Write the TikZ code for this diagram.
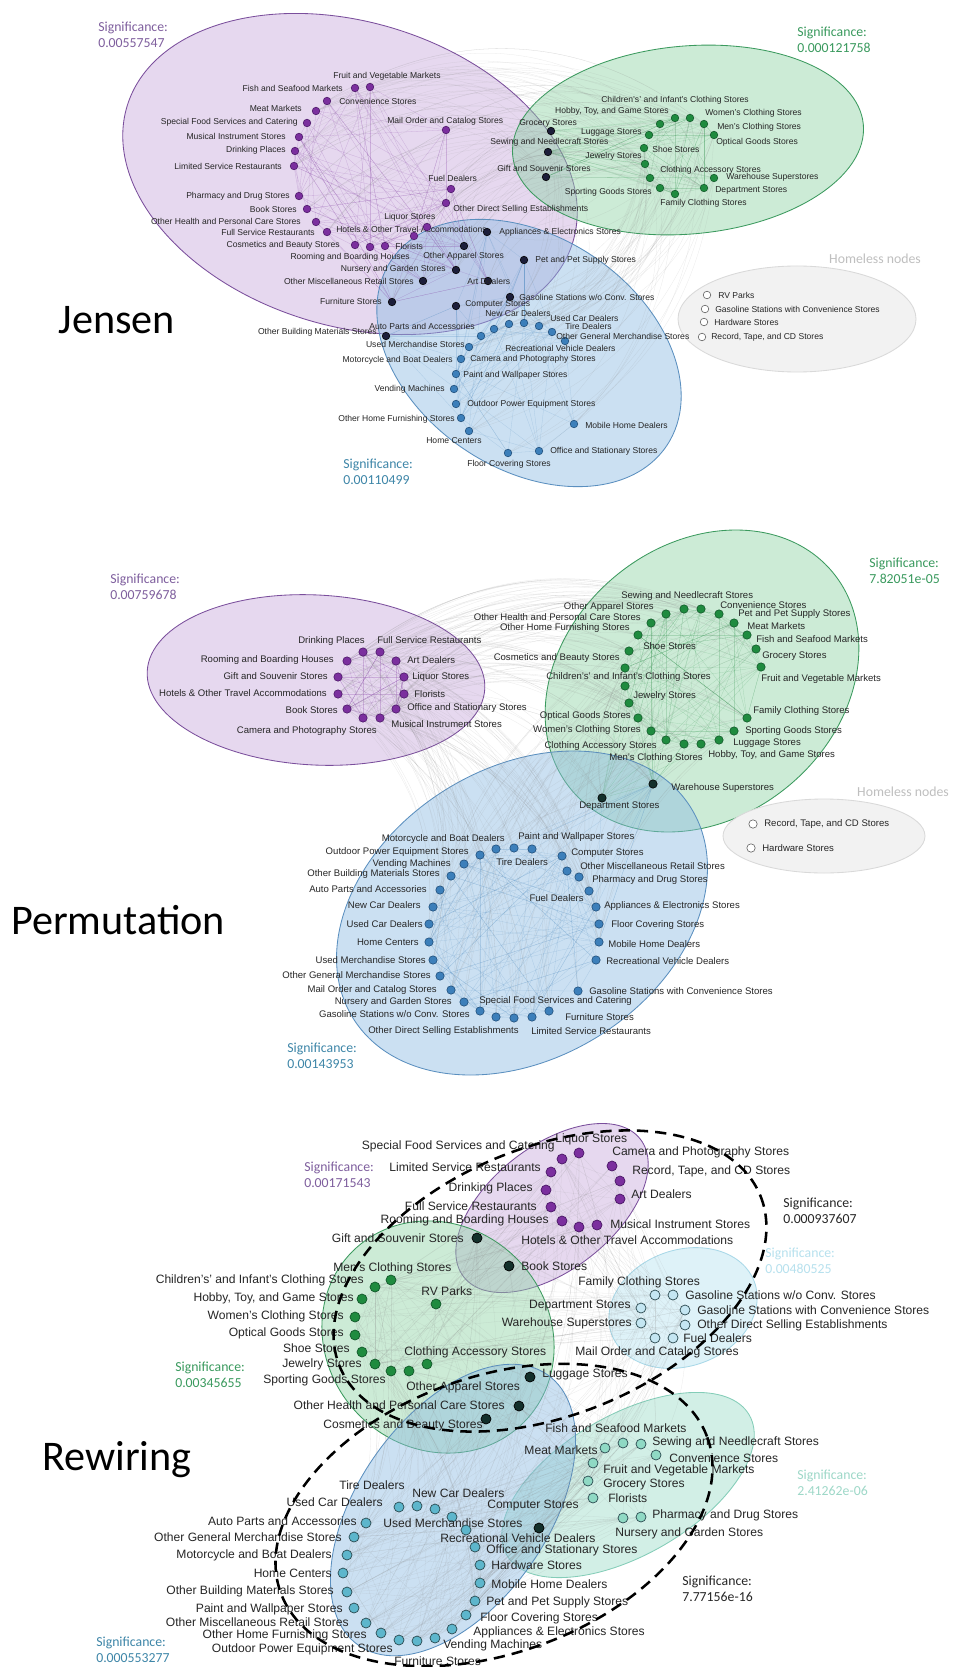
\documentclass[tikz,border=0pt]{standalone}
\usepackage{fontspec}
\setmainfont{Liberation Sans}
\newfontfamily\sigfont{Carlito}

\definecolor{txt}{HTML}{262626}
\definecolor{ePurF}{HTML}{C9A9DD}\definecolor{ePurD}{HTML}{7A4E9C}
\definecolor{eGrnF}{HTML}{8FD3A6}\definecolor{eGrnD}{HTML}{3B9A5E}
\definecolor{eBluF}{HTML}{8DBCE3}\definecolor{eBluD}{HTML}{5A8FBF}
\definecolor{eCyaF}{HTML}{BFE6F2}\definecolor{eCyaD}{HTML}{A8D8E8}
\definecolor{eTeaF}{HTML}{A7E0CF}\definecolor{eTeaD}{HTML}{84CDB8}
\definecolor{eHomF}{HTML}{F2F2F2}\definecolor{eHomD}{HTML}{D9D9D9}
\definecolor{nPur}{HTML}{7B2F9E}\definecolor{nPurD}{HTML}{4A1766}
\definecolor{nGrn}{HTML}{1F8B3F}\definecolor{nGrnD}{HTML}{12582A}
\definecolor{nBlu}{HTML}{3C7FBA}\definecolor{nBluD}{HTML}{1E4C78}
\definecolor{nDrk}{HTML}{1C1E3A}\definecolor{nDrk2}{HTML}{13302B}
\definecolor{rCya}{HTML}{C4E6F2}\definecolor{rTea}{HTML}{8FD9C4}
\definecolor{rBlu}{HTML}{5DB6CC}\definecolor{rOut}{HTML}{2B4A50}
\definecolor{sPur}{HTML}{7F5F9E}\definecolor{sGrn}{HTML}{3A9A5E}
\definecolor{sBlu}{HTML}{3E86A8}\definecolor{sCya}{HTML}{B7E1EE}
\definecolor{sTea}{HTML}{9ED8C8}\definecolor{sHom}{HTML}{BFBFBF}

\pgfdeclarelayer{bg}
\pgfdeclarelayer{edges}
\pgfsetlayers{bg,edges,main}

\tikzset{
  lj/.style={font=\fontsize{6.1}{7.3}\selectfont, text=txt, inner sep=0pt},
  lp/.style={font=\fontsize{6.8}{8}\selectfont, text=txt, inner sep=0pt},
  lr/.style={font=\fontsize{8.6}{10}\selectfont, text=txt, inner sep=0pt},
  sig/.style={font=\sigfont\fontsize{9.8}{11.6}\selectfont, align=left, anchor=west, inner sep=0pt},
  ttl/.style={font=\sigfont\fontsize{30}{36}\selectfont, text=black, inner sep=0pt},
  dotj/.style={circle, draw, line width=0.4pt, inner sep=0pt, minimum size=1.9mm},
  dotp/.style={circle, draw, line width=0.4pt, inner sep=0pt, minimum size=2.1mm},
  dotr/.style={circle, draw, line width=0.5pt, inner sep=0pt, minimum size=2.5mm},
  pur/.style={fill=nPur, draw=nPurD},
  grn/.style={fill=nGrn, draw=nGrnD},
  blu/.style={fill=nBlu, draw=nBluD},
  drk/.style={fill=nDrk, draw=black},
  drk2/.style={fill=nDrk2, draw=black},
  hml/.style={fill=white, draw=black!65},
  rcya/.style={fill=rCya, draw=rOut},
  rtea/.style={fill=rTea, draw=rOut},
  rblu/.style={fill=rBlu, draw=rOut},
  epur/.style={fill=ePurF, fill opacity=.45, draw=ePurD, line width=.6pt},
  egrn/.style={fill=eGrnF, fill opacity=.45, draw=eGrnD, line width=.6pt},
  eblu/.style={fill=eBluF, fill opacity=.45, draw=eBluD, line width=.6pt},
  ecya/.style={fill=eCyaF, fill opacity=.5, draw=eCyaD, line width=.6pt},
  etea/.style={fill=eTeaF, fill opacity=.5, draw=eTeaD, line width=.6pt},
  ehom/.style={fill=eHomF, draw=eHomD, line width=.6pt},
  dsh/.style={black, line width=1.8pt, dash pattern=on 8pt off 5pt},
  edpur/.style={draw=nPur, line width=.2pt, draw opacity=.25},
  edgrn/.style={draw=nGrn, line width=.2pt, draw opacity=.22},
  edblu/.style={draw=nBlu, line width=.2pt, draw opacity=.22},
  edgry/.style={draw=black!45, line width=.2pt, draw opacity=.18},
}

\begin{document}
\begin{tikzpicture}[x=0.025cm, y=-0.025cm]
\useasboundingbox (0,0) rectangle (965,1667);

% ---------- groups ----------
\begin{pgfonlayer}{bg}
\fill[white] (0,0) rectangle (965,1667);
% Jensen
\filldraw[epur, rotate around={-17:(350,174)}] (350,174) ellipse [x radius=233, y radius=152];
\filldraw[egrn, rotate around={5:(688,140)}] (688,140) ellipse [x radius=176, y radius=94];
\filldraw[eblu, rotate around={-34:(529,353)}] (529,353) ellipse [x radius=166, y radius=116];
\filldraw[ehom] (797,319) ellipse [x radius=119, y radius=53];
% Permutation
\filldraw[epur, rotate around={-3:(316,680)}] (316,680) ellipse [x radius=169, y radius=85];
\filldraw[egrn, rotate around={40:(702,681)}] (702,681) ellipse [x radius=170, y radius=136];
\filldraw[eblu, rotate around={32:(522,913)}] (522,913) ellipse [x radius=199, y radius=145];
\filldraw[ehom] (824,836) ellipse [x radius=101, y radius=37];
% Rewiring
\filldraw[epur, rotate around={38:(552,1208)}] (552,1208) ellipse [x radius=112, y radius=62];
\filldraw[egrn, rotate around={-45:(438,1337)}] (438,1337) ellipse [x radius=121, y radius=111];
\filldraw[ecya, rotate around={20:(683,1308)}] (683,1308) ellipse [x radius=76, y radius=58];
\filldraw[etea, rotate around={30:(628,1485)}] (628,1485) ellipse [x radius=140, y radius=70];
\filldraw[eblu, rotate around={55:(453,1510)}] (453,1510) ellipse [x radius=165, y radius=95];
\end{pgfonlayer}

% ---------- titles and significance ----------
\node[ttl] (jTitle) at (117,320) {Jensen};
\node[ttl] (pTitle) at (118,920) {Permutation};
\node[ttl] (rTitle) at (117,1460) {Rewiring};
\node[sig, text=sPur] (jSigP) at (98,35) {Significance:\\0.00557547};
\node[sig, text=sGrn] (jSigG) at (797,40) {Significance:\\0.000121758};
\node[sig, text=sBlu] (jSigB) at (343,472) {Significance:\\0.00110499};
\node[sig, text=sHom, anchor=center] (jHomT) at (875,259) {Homeless nodes};
\node[sig, text=sPur] (pSigP) at (110,587) {Significance:\\0.00759678};
\node[sig, text=sGrn] (pSigG) at (869,571) {Significance:\\7.82051e-05};
\node[sig, text=sBlu] (pSigB) at (287,1056) {Significance:\\0.00143953};
\node[sig, text=sHom, anchor=center] (pHomT) at (903,792) {Homeless nodes};
\node[sig, text=sPur] (rSigP) at (304,1175) {Significance:\\0.00171543};
\node[sig, text=txt] (rSigK1) at (783,1211) {Significance:\\0.000937607};
\node[sig, text=sCya] (rSigC) at (765,1261) {Significance:\\0.00480525};
\node[sig, text=sGrn] (rSigG) at (175,1375) {Significance:\\0.00345655};
\node[sig, text=sTea] (rSigT) at (797,1483) {Significance:\\2.41262e-06};
\node[sig, text=txt] (rSigK2) at (682,1589) {Significance:\\7.77156e-16};
\node[sig, text=sBlu] (rSigB) at (96,1650) {Significance:\\0.000553277};

% ================= Jensen =================
\node[dotj,pur] (jFruit) at (370,87) {}; \node[lj,anchor=west] (jFruitT) at (333,76) {Fruit and Vegetable Markets};
\node[dotj,pur] (jFish) at (355,88) {}; \node[lj,anchor=east] (jFishT) at (343,88) {Fish and Seafood Markets};
\node[dotj,pur] (jConv) at (327,101) {}; \node[lj,anchor=west] (jConvT) at (339,101) {Convenience Stores};
\node[dotj,pur] (jMeat) at (316,111) {}; \node[lj,anchor=east] (jMeatT) at (302,108) {Meat Markets};
\node[dotj,pur] (jSpecial) at (307,123) {}; \node[lj,anchor=east] (jSpecialT) at (298,122) {Special Food Services and Catering};
\node[dotj,pur] (jMusical) at (299,137) {}; \node[lj,anchor=east] (jMusicalT) at (286,136) {Musical Instrument Stores};
\node[dotj,pur] (jDrink) at (295,151) {}; \node[lj,anchor=east] (jDrinkT) at (286,150) {Drinking Places};
\node[dotj,pur] (jLimited) at (294,166) {}; \node[lj,anchor=east] (jLimitedT) at (282,166) {Limited Service Restaurants};
\node[dotj,pur] (jPharm) at (299,196) {}; \node[lj,anchor=east] (jPharmT) at (290,196) {Pharmacy and Drug Stores};
\node[dotj,pur] (jBook) at (307,209) {}; \node[lj,anchor=east] (jBookT) at (297,209) {Book Stores};
\node[dotj,pur] (jHealth) at (316,222) {}; \node[lj,anchor=east] (jHealthT) at (301,221) {Other Health and Personal Care Stores};
\node[dotj,pur] (jFull) at (327,232) {}; \node[lj,anchor=east] (jFullT) at (315,232) {Full Service Restaurants};
\node[dotj,pur] (jCosm) at (355,245) {}; \node[lj,anchor=east] (jCosmT) at (340,245) {Cosmetics and Beauty Stores};
\node[dotj,pur] (jRoom) at (370,247) {}; \node[lj,anchor=east] (jRoomT) at (410,257) {Rooming and Boarding Houses};
\node[dotj,pur] (jFlor) at (385,246) {}; \node[lj,anchor=west] (jFlorT) at (395,246) {Florists};
\node[dotj,pur] (jHotel) at (414,236) {}; \node[lj,anchor=west] (jHotelT) at (336,229) {Hotels \& Other Travel Accommodations};
\node[dotj,pur] (jLiquor) at (427,227) {}; \node[lj,anchor=west] (jLiquorT) at (384,217) {Liquor Stores};
\node[dotj,pur] (jDirect) at (446,203) {}; \node[lj,anchor=west] (jDirectT) at (453,209) {Other Direct Selling Establishments};
\node[dotj,pur] (jFuel) at (451,189) {}; \node[lj,anchor=west] (jFuelT) at (428,178) {Fuel Dealers};
\node[dotj,pur] (jMail) at (446,130) {}; \node[lj,anchor=west] (jMailT) at (387,121) {Mail Order and Catalog Stores};
% overlap
\node[dotj,drk] (jGroc) at (551,131) {}; \node[lj,anchor=west] (jGrocT) at (519,123) {Grocery Stores};
\node[dotj,drk] (jSew) at (548,152) {}; \node[lj,anchor=west] (jSewT) at (490,142) {Sewing and Needlecraft Stores};
\node[dotj,drk] (jGift) at (546,177) {}; \node[lj,anchor=west] (jGiftT) at (497,168) {Gift and Souvenir Stores};
\node[dotj,drk] (jAppl) at (487,232) {}; \node[lj,anchor=west] (jApplT) at (499,232) {Appliances \& Electronics Stores};
\node[dotj,drk] (jApp) at (464,246) {}; \node[lj,anchor=west] (jAppT) at (423,256) {Other Apparel Stores};
\node[dotj,drk] (jPet) at (524,260) {}; \node[lj,anchor=west] (jPetT) at (535,260) {Pet and Pet Supply Stores};
\node[dotj,drk] (jNurs) at (456,270) {}; \node[lj,anchor=east] (jNursT) at (446,269) {Nursery and Garden Stores};
\node[dotj,drk] (jMisc) at (423,281) {}; \node[lj,anchor=east] (jMiscT) at (414,281) {Other Miscellaneous Retail Stores};
\node[dotj,drk] (jArt) at (488,281) {}; \node[lj,anchor=west] (jArtT) at (467,281) {Art Dealers};
\node[dotj,drk] (jGasW) at (510,297) {}; \node[lj,anchor=west] (jGasWT) at (519,297) {Gasoline Stations w/o Conv. Stores};
\node[dotj,drk] (jFurn) at (392,302) {}; \node[lj,anchor=east] (jFurnT) at (382,301) {Furniture Stores};
\node[dotj,drk] (jComp) at (456,306) {}; \node[lj,anchor=west] (jCompT) at (465,304) {Computer Stores};
\node[dotj,drk] (jBuild) at (386,336) {}; \node[lj,anchor=east] (jBuildT) at (377,332) {Other Building Materials Stores};
% blue group
\node[dotj,blu] (jAuto) at (481,336) {}; \node[lj,anchor=east] (jAutoT) at (475,326) {Auto Parts and Accessories};
\node[dotj,blu] (jArc1) at (494,329) {};
\node[dotj,blu] (jNewCar) at (509,324) {}; \node[lj,anchor=west] (jNewCarT) at (485,313) {New Car Dealers};
\node[dotj,blu] (jArc2) at (524,323) {};
\node[dotj,blu] (jUsedCar) at (539,326) {}; \node[lj,anchor=west] (jUsedCarT) at (550,318) {Used Car Dealers};
\node[dotj,blu] (jTire) at (552,332) {}; \node[lj,anchor=west] (jTireT) at (565,326) {Tire Dealers};
\node[dotj,blu] (jGenM) at (565,341) {}; \node[lj,anchor=west] (jGenMT) at (556,336) {Other General Merchandise Stores};
\node[lj,anchor=west] (jRecVT) at (505,348) {Recreational Vehicle Dealers};
\node[dotj,blu] (jUsedM) at (469,347) {}; \node[lj,anchor=east] (jUsedMT) at (465,344) {Used Merchandise Stores};
\node[dotj,blu] (jMotoCam) at (461,359) {}; \node[lj,anchor=east] (jMotoT) at (453,360) {Motorcycle and Boat Dealers};
\node[lj,anchor=west] (jCamT) at (470,359) {Camera and Photography Stores};
\node[dotj,blu] (jPaint) at (456,374) {}; \node[lj,anchor=west] (jPaintT) at (463,375) {Paint and Wallpaper Stores};
\node[dotj,blu] (jVend) at (454,389) {}; \node[lj,anchor=east] (jVendT) at (445,389) {Vending Machines};
\node[dotj,blu] (jOutd) at (456,404) {}; \node[lj,anchor=west] (jOutdT) at (467,404) {Outdoor Power Equipment Stores};
\node[dotj,blu] (jHomeF) at (461,418) {}; \node[lj,anchor=east] (jHomeFT) at (455,419) {Other Home Furnishing Stores};
\node[dotj,blu] (jHomeC) at (469,431) {}; \node[lj,anchor=west] (jHomeCT) at (426,441) {Home Centers};
\node[dotj,blu] (jFloor) at (508,453) {}; \node[lj,anchor=west] (jFloorT) at (467,464) {Floor Covering Stores};
\node[dotj,blu] (jOffice) at (539,451) {}; \node[lj,anchor=west] (jOfficeT) at (550,451) {Office and Stationary Stores};
\node[dotj,blu] (jMobile) at (574,424) {}; \node[lj,anchor=west] (jMobileT) at (585,425) {Mobile Home Dealers};
% green group
\node[dotj,grn] (jHobby) at (660,124) {}; \node[lj,anchor=east] (jHobbyT) at (669,111) {Hobby, Toy, and Game Stores};
\node[dotj,grn] (jChild) at (675,118) {}; \node[lj,anchor=west] (jChildT) at (601,100) {Children's' and Infant's Clothing Stores};
\node[dotj,grn] (jWom) at (690,118) {}; \node[lj,anchor=west] (jWomT) at (705,113) {Women's Clothing Stores};
\node[dotj,grn] (jMen) at (704,124) {}; \node[lj,anchor=west] (jMenT) at (717,127) {Men's Clothing Stores};
\node[dotj,grn] (jOpt) at (714,135) {}; \node[lj,anchor=west] (jOptT) at (716,142) {Optical Goods Stores};
\node[dotj,grn] (jLugg) at (649,135) {}; \node[lj,anchor=east] (jLuggT) at (642,132) {Luggage Stores};
\node[dotj,grn] (jShoe) at (644,148) {}; \node[lj,anchor=west] (jShoeT) at (652,149) {Shoe Stores};
\node[dotj,grn] (jJew) at (645,164) {}; \node[lj,anchor=east] (jJewT) at (642,156) {Jewelry Stores};
\node[dotj,grn] (jClAcc) at (650,178) {}; \node[lj,anchor=west] (jClAccT) at (660,170) {Clothing Accessory Stores};
\node[dotj,grn] (jSport) at (660,188) {}; \node[lj,anchor=east] (jSportT) at (652,192) {Sporting Goods Stores};
\node[dotj,grn] (jFam) at (675,194) {}; \node[lj,anchor=west] (jFamT) at (660,203) {Family Clothing Stores};
\node[dotj,grn] (jDept) at (704,188) {}; \node[lj,anchor=west] (jDeptT) at (715,190) {Department Stores};
\node[dotj,grn] (jWare) at (714,178) {}; \node[lj,anchor=west] (jWareT) at (726,177) {Warehouse Superstores};
% homeless
\node[dotj,hml] (jRV) at (707,295) {}; \node[lj,anchor=west] (jRVT) at (718,295) {RV Parks};
\node[dotj,hml] (jGasC) at (705,309) {}; \node[lj,anchor=west] (jGasCT) at (715,309) {Gasoline Stations with Convenience Stores};
\node[dotj,hml] (jHard) at (704,322) {}; \node[lj,anchor=west] (jHardT) at (714,322) {Hardware Stores};
\node[dotj,hml] (jRec) at (702,337) {}; \node[lj,anchor=west] (jRecT) at (711,337) {Record, Tape, and CD Stores};

% ================= Permutation =================
\node[dotp,pur] (pDrink) at (363,652) {}; \node[lp,anchor=east] (pDrinkT) at (365,641) {Drinking Places};
\node[dotp,pur] (pFull) at (380,652) {}; \node[lp,anchor=west] (pFullT) at (377,640) {Full Service Restaurants};
\node[dotp,pur] (pRoom) at (347,661) {}; \node[lp,anchor=east] (pRoomT) at (334,660) {Rooming and Boarding Houses};
\node[dotp,pur] (pArt) at (396,661) {}; \node[lp,anchor=west] (pArtT) at (407,660) {Art Dealers};
\node[dotp,pur] (pGift) at (338,677) {}; \node[lp,anchor=east] (pGiftT) at (328,676) {Gift and Souvenir Stores};
\node[dotp,pur] (pLiq) at (404,677) {}; \node[lp,anchor=west] (pLiqT) at (412,677) {Liquor Stores};
\node[dotp,pur] (pHotel) at (338,694) {}; \node[lp,anchor=east] (pHotelT) at (327,693) {Hotels \& Other Travel Accommodations};
\node[dotp,pur] (pFlor) at (404,694) {}; \node[lp,anchor=west] (pFlorT) at (414,694) {Florists};
\node[dotp,pur] (pBook) at (347,709) {}; \node[lp,anchor=east] (pBookT) at (338,710) {Book Stores};
\node[dotp,pur] (pOffice) at (396,709) {}; \node[lp,anchor=west] (pOfficeT) at (407,708) {Office and Stationary Stores};
\node[dotp,pur] (pCam) at (363,718) {}; \node[lp,anchor=east] (pCamT) at (377,731) {Camera and Photography Stores};
\node[dotp,pur] (pMus) at (380,718) {}; \node[lp,anchor=west] (pMusT) at (391,724) {Musical Instrument Stores};
% green group
\node[dotp,grn] (pSew) at (684,609) {}; \node[lp,anchor=west] (pSewT) at (621,596) {Sewing and Needlecraft Stores};
\node[dotp,grn] (pConv) at (701,609) {}; \node[lp,anchor=west] (pConvT) at (720,605) {Convenience Stores};
\node[dotp,grn] (pPet) at (719,614) {}; \node[lp,anchor=west] (pPetT) at (738,614) {Pet and Pet Supply Stores};
\node[dotp,grn] (pMeat) at (734,623) {}; \node[lp,anchor=west] (pMeatT) at (747,626) {Meat Markets};
\node[dotp,grn] (pFish) at (747,635) {}; \node[lp,anchor=west] (pFishT) at (756,639) {Fish and Seafood Markets};
\node[dotp,grn] (pGroc) at (756,649) {}; \node[lp,anchor=west] (pGrocT) at (762,656) {Grocery Stores};
\node[dotp,grn] (pFruit) at (761,667) {}; \node[lp,anchor=west] (pFruitT) at (761,679) {Fruit and Vegetable Markets};
\node[dotp,grn] (pApp) at (666,614) {}; \node[lp,anchor=east] (pAppT) at (654,607) {Other Apparel Stores};
\node[dotp,grn] (pHealth) at (651,623) {}; \node[lp,anchor=east] (pHealthT) at (641,617) {Other Health and Personal Care Stores};
\node[dotp,grn] (pHomeF) at (638,635) {}; \node[lp,anchor=east] (pHomeFT) at (630,628) {Other Home Furnishing Stores};
\node[dotp,grn] (pShoe) at (629,651) {}; \node[lp,anchor=west] (pShoeT) at (643,646) {Shoe Stores};
\node[dotp,grn] (pCosm) at (625,668) {}; \node[lp,anchor=east] (pCosmT) at (620,658) {Cosmetics and Beauty Stores};
\node[dotp,grn] (pChild) at (625,686) {}; \node[lp,anchor=west] (pChildT) at (546,677) {Children's' and Infant's Clothing Stores};
\node[dotp,grn] (pJew) at (629,703) {}; \node[lp,anchor=west] (pJewT) at (633,696) {Jewelry Stores};
\node[dotp,grn] (pOpt) at (638,718) {}; \node[lp,anchor=east] (pOptT) at (631,716) {Optical Goods Stores};
\node[dotp,grn] (pWom) at (651,731) {}; \node[lp,anchor=east] (pWomT) at (641,730) {Women's Clothing Stores};
\node[dotp,grn] (pClAcc) at (666,740) {}; \node[lp,anchor=east] (pClAccT) at (657,746) {Clothing Accessory Stores};
\node[dotp,grn] (pMen) at (684,744) {}; \node[lp,anchor=west] (pMenT) at (609,758) {Men's Clothing Stores};
\node[dotp,grn] (pHobby) at (701,744) {}; \node[lp,anchor=west] (pHobbyT) at (708,755) {Hobby, Toy, and Game Stores};
\node[dotp,grn] (pLugg) at (719,740) {}; \node[lp,anchor=west] (pLuggT) at (733,743) {Luggage Stores};
\node[dotp,grn] (pSport) at (734,731) {}; \node[lp,anchor=west] (pSportT) at (745,731) {Sporting Goods Stores};
\node[dotp,grn] (pFamily) at (747,718) {}; \node[lp,anchor=west] (pFamilyT) at (753,711) {Family Clothing Stores};
\node[dotp,drk2] (pWare) at (653,784) {}; \node[lp,anchor=west] (pWareT) at (671,788) {Warehouse Superstores};
\node[dotp,drk2] (pDept) at (602,798) {}; \node[lp,anchor=west] (pDeptT) at (579,806) {Department Stores};
% blue group
\node[dotp,blu] (pMoto) at (496,849) {}; \node[lp,anchor=east] (pMotoT) at (505,839) {Motorcycle and Boat Dealers};
\node[dotp,blu] (pTire) at (514,848) {}; \node[lp,anchor=west] (pTireT) at (496,862) {Tire Dealers};
\node[dotp,blu] (pPaint) at (532,849) {}; \node[lp,anchor=west] (pPaintT) at (518,837) {Paint and Wallpaper Stores};
\node[dotp,blu] (pOutd) at (480,855) {}; \node[lp,anchor=east] (pOutdT) at (469,852) {Outdoor Power Equipment Stores};
\node[dotp,blu] (pComp) at (562,856) {}; \node[lp,anchor=west] (pCompT) at (571,853) {Computer Stores};
\node[dotp,blu] (pVend) at (464,864) {}; \node[lp,anchor=east] (pVendT) at (451,864) {Vending Machines};
\node[dotp,blu] (pMisc) at (567,871) {}; \node[lp,anchor=west] (pMiscT) at (580,866) {Other Miscellaneous Retail Stores};
\node[dotp,blu] (pBuild) at (451,876) {}; \node[lp,anchor=east] (pBuildT) at (440,874) {Other Building Materials Stores};
\node[dotp,blu] (pPharm) at (579,877) {}; \node[lp,anchor=west] (pPharmT) at (592,880) {Pharmacy and Drug Stores};
\node[dotp,blu] (pAuto) at (440,890) {}; \node[lp,anchor=east] (pAutoT) at (427,889) {Auto Parts and Accessories};
\node[dotp,blu] (pFuel) at (589,891) {}; \node[lp,anchor=east] (pFuelT) at (584,898) {Fuel Dealers};
\node[dotp,blu] (pNewC) at (433,907) {}; \node[lp,anchor=east] (pNewCT) at (421,905) {New Car Dealers};
\node[dotp,blu] (pAppl) at (596,907) {}; \node[lp,anchor=west] (pApplT) at (604,906) {Appliances \& Electronics Stores};
\node[dotp,blu] (pUsedC) at (429,924) {}; \node[lp,anchor=east] (pUsedCT) at (423,924) {Used Car Dealers};
\node[dotp,blu] (pFloor) at (599,924) {}; \node[lp,anchor=west] (pFloorT) at (611,925) {Floor Covering Stores};
\node[dotp,blu] (pHomeC) at (429,942) {}; \node[lp,anchor=east] (pHomeCT) at (419,942) {Home Centers};
\node[dotp,blu] (pMobile) at (599,942) {}; \node[lp,anchor=west] (pMobileT) at (608,944) {Mobile Home Dealers};
\node[dotp,blu] (pUsedM) at (433,960) {}; \node[lp,anchor=east] (pUsedMT) at (426,960) {Used Merchandise Stores};
\node[dotp,blu] (pRecV) at (596,960) {}; \node[lp,anchor=west] (pRecVT) at (606,961) {Recreational Vehicle Dealers};
\node[dotp,blu] (pGenM) at (440,976) {}; \node[lp,anchor=east] (pGenMT) at (431,975) {Other General Merchandise Stores};
\node[dotp,blu] (pMail) at (451,990) {}; \node[lp,anchor=east] (pMailT) at (437,990) {Mail Order and Catalog Stores};
\node[dotp,blu] (pGasC) at (578,991) {}; \node[lp,anchor=west] (pGasCT) at (589,991) {Gasoline Stations with Convenience Stores};
\node[dotp,blu] (pNurs) at (464,1002) {}; \node[lp,anchor=east] (pNursT) at (452,1002) {Nursery and Garden Stores};
\node[dotp,blu] (pGasW) at (480,1011) {}; \node[lp,anchor=east] (pGasWT) at (470,1014) {Gasoline Stations w/o Conv. Stores};
\node[dotp,blu] (pDirect) at (496,1017) {}; \node[lp,anchor=west] (pDirectT) at (368,1031) {Other Direct Selling Establishments};
\node[dotp,blu] (pLimit) at (514,1018) {}; \node[lp,anchor=west] (pLimitT) at (531,1031) {Limited Service Restaurants};
\node[dotp,blu] (pSpec) at (532,1017) {}; \node[lp,anchor=west] (pSpecT) at (479,1001) {Special Food Services and Catering};
\node[dotp,blu] (pFurn) at (549,1011) {}; \node[lp,anchor=west] (pFurnT) at (565,1017) {Furniture Stores};
% homeless
\node[dotp,hml] (pRec) at (753,824) {}; \node[lp,anchor=west] (pRecT) at (764,824) {Record, Tape, and CD Stores};
\node[dotp,hml] (pHard) at (751,848) {}; \node[lp,anchor=west] (pHardT) at (762,848) {Hardware Stores};

% ================= Rewiring =================
\node[dotr,pur] (rSpec) at (562,1159) {}; \node[lr,anchor=east] (rSpecT) at (555,1146) {Special Food Services and Catering};
\node[dotr,pur] (rLiq) at (579,1153) {}; \node[lr,anchor=west] (rLiqT) at (555,1139) {Liquor Stores};
\node[dotr,pur] (rCam) at (612,1166) {}; \node[lr,anchor=west] (rCamT) at (612,1152) {Camera and Photography Stores};
\node[dotr,pur] (rLimit) at (551,1172) {}; \node[lr,anchor=east] (rLimitT) at (541,1167) {Limited Service Restaurants};
\node[dotr,pur] (rRec) at (620,1181) {}; \node[lr,anchor=west] (rRecT) at (632,1171) {Record, Tape, and CD Stores};
\node[dotr,pur] (rDrink) at (546,1190) {}; \node[lr,anchor=east] (rDrinkT) at (533,1188) {Drinking Places};
\node[dotr,pur] (rArt) at (620,1199) {}; \node[lr,anchor=west] (rArtT) at (631,1194) {Art Dealers};
\node[dotr,pur] (rFull) at (551,1207) {}; \node[lr,anchor=east] (rFullT) at (537,1206) {Full Service Restaurants};
\node[dotr,pur] (rRoom) at (562,1221) {}; \node[lr,anchor=east] (rRoomT) at (549,1220) {Rooming and Boarding Houses};
\node[dotr,pur] (rHotel) at (579,1227) {}; \node[lr,anchor=west] (rHotelT) at (521,1240) {Hotels \& Other Travel Accommodations};
\node[dotr,pur] (rMus) at (597,1225) {}; \node[lr,anchor=west] (rMusT) at (610,1224) {Musical Instrument Stores};
\node[dotr,drk2] (rGift) at (477,1238) {}; \node[lr,anchor=east] (rGiftT) at (464,1238) {Gift and Souvenir Stores};
\node[dotr,drk2] (rBook) at (509,1266) {}; \node[lr,anchor=west] (rBookT) at (521,1266) {Book Stores};
% green group
\node[dotr,grn] (rMen) at (391,1280) {}; \node[lr,anchor=west] (rMenT) at (333,1268) {Men's Clothing Stores};
\node[dotr,grn] (rChild) at (375,1287) {}; \node[lr,anchor=east] (rChildT) at (364,1280) {Children's' and Infant's Clothing Stores};
\node[dotr,grn] (rHobby) at (362,1299) {}; \node[lr,anchor=east] (rHobbyT) at (354,1298) {Hobby, Toy, and Game Stores};
\node[dotr,grn] (rRV) at (436,1304) {}; \node[lr,anchor=west] (rRVT) at (421,1291) {RV Parks};
\node[dotr,grn] (rWom) at (355,1317) {}; \node[lr,anchor=east] (rWomT) at (344,1316) {Women's Clothing Stores};
\node[dotr,grn] (rOpt) at (355,1335) {}; \node[lr,anchor=east] (rOptT) at (344,1333) {Optical Goods Stores};
\node[dotr,grn] (rShoe) at (362,1352) {}; \node[lr,anchor=east] (rShoeT) at (350,1348) {Shoe Stores};
\node[dotr,grn] (rJew) at (375,1364) {}; \node[lr,anchor=east] (rJewT) at (362,1364) {Jewelry Stores};
\node[dotr,grn] (rSport) at (391,1371) {}; \node[lr,anchor=east] (rSportT) at (386,1380) {Sporting Goods Stores};
\node[dotr,grn] (rApp) at (409,1371) {}; \node[lr,anchor=west] (rAppT) at (406,1387) {Other Apparel Stores};
\node[dotr,grn] (rClAcc) at (427,1364) {}; \node[lr,anchor=west] (rClAccT) at (404,1352) {Clothing Accessory Stores};
\node[dotr,drk2] (rLugg) at (530,1377) {}; \node[lr,anchor=west] (rLuggT) at (542,1375) {Luggage Stores};
\node[dotr,drk2] (rHealth) at (519,1406) {}; \node[lr,anchor=east] (rHealthT) at (505,1405) {Other Health and Personal Care Stores};
\node[dotr,drk2] (rCosm) at (486,1419) {}; \node[lr,anchor=east] (rCosmT) at (483,1425) {Cosmetics and Beauty Stores};
% light cyan group
\node[dotr,rcya] (rFam) at (655,1295) {}; \node[lr,anchor=west] (rFamT) at (578,1282) {Family Clothing Stores};
\node[dotr,rcya] (rGasW) at (673,1295) {}; \node[lr,anchor=west] (rGasWT) at (685,1295) {Gasoline Stations w/o Conv. Stores};
\node[dotr,rcya] (rDept) at (641,1308) {}; \node[lr,anchor=east] (rDeptT) at (631,1306) {Department Stores};
\node[dotr,rcya] (rGasC) at (685,1310) {}; \node[lr,anchor=west] (rGasCT) at (697,1310) {Gasoline Stations with Convenience Stores};
\node[dotr,rcya] (rWare) at (641,1323) {}; \node[lr,anchor=east] (rWareT) at (632,1323) {Warehouse Superstores};
\node[dotr,rcya] (rDirect) at (685,1325) {}; \node[lr,anchor=west] (rDirectT) at (697,1325) {Other Direct Selling Establishments};
\node[dotr,rcya] (rMail) at (655,1338) {}; \node[lr,anchor=west] (rMailT) at (575,1352) {Mail Order and Catalog Stores};
\node[dotr,rcya] (rFuel) at (673,1338) {}; \node[lr,anchor=west] (rFuelT) at (683,1338) {Fuel Dealers};
% teal group
\node[dotr,rtea] (rMeat) at (605,1448) {}; \node[lr,anchor=east] (rMeatT) at (598,1450) {Meat Markets};
\node[dotr,rtea] (rFish) at (623,1443) {}; \node[lr,anchor=west] (rFishT) at (545,1428) {Fish and Seafood Markets};
\node[dotr,rtea] (rSew) at (641,1444) {}; \node[lr,anchor=west] (rSewT) at (652,1442) {Sewing and Needlecraft Stores};
\node[dotr,rtea] (rConv) at (656,1455) {}; \node[lr,anchor=west] (rConvT) at (669,1458) {Convenience Stores};
\node[dotr,rtea] (rFruit) at (593,1463) {}; \node[lr,anchor=west] (rFruitT) at (603,1470) {Fruit and Vegetable Markets};
\node[dotr,rtea] (rGroc) at (588,1481) {}; \node[lr,anchor=west] (rGrocT) at (603,1485) {Grocery Stores};
\node[dotr,rtea] (rFlor) at (593,1498) {}; \node[lr,anchor=west] (rFlorT) at (608,1498) {Florists};
\node[dotr,rtea] (rPharm) at (641,1517) {}; \node[lr,anchor=west] (rPharmT) at (652,1515) {Pharmacy and Drug Stores};
\node[dotr,rtea] (rNurs) at (623,1518) {}; \node[lr,anchor=west] (rNursT) at (615,1533) {Nursery and Garden Stores};
% blue group
\node[dotr,rblu] (rUsedC) at (399,1507) {}; \node[lr,anchor=east] (rUsedCT) at (383,1502) {Used Car Dealers};
\node[dotr,rblu] (rTire) at (417,1506) {}; \node[lr,anchor=east] (rTireT) at (405,1485) {Tire Dealers};
\node[dotr,rblu] (rNewC) at (435,1509) {}; \node[lr,anchor=west] (rNewCT) at (412,1493) {New Car Dealers};
\node[dotr,rblu] (rUsedM) at (452,1517) {}; \node[lr,anchor=west] (rUsedMT) at (383,1523) {Used Merchandise Stores};
\node[dotr,rblu] (rAuto) at (366,1523) {}; \node[lr,anchor=east] (rAutoT) at (357,1521) {Auto Parts and Accessories};
\node[dotr,drk2] (rComp) at (539,1528) {}; \node[lr,anchor=west] (rCompT) at (487,1506) {Computer Stores};
\node[dotr,rblu] (rRecV) at (466,1530) {}; \node[lr,anchor=west] (rRecVT) at (440,1538) {Recreational Vehicle Dealers};
\node[dotr,rblu] (rGenM) at (354,1537) {}; \node[lr,anchor=east] (rGenMT) at (342,1537) {Other General Merchandise Stores};
\node[dotr,rblu] (rOffice) at (475,1547) {}; \node[lr,anchor=west] (rOfficeT) at (486,1550) {Office and Stationary Stores};
\node[dotr,rblu] (rMoto) at (347,1555) {}; \node[lr,anchor=east] (rMotoT) at (332,1555) {Motorcycle and Boat Dealers};
\node[dotr,rblu] (rHard) at (480,1565) {}; \node[lr,anchor=west] (rHardT) at (491,1565) {Hardware Stores};
\node[dotr,rblu] (rHomeC) at (343,1573) {}; \node[lr,anchor=east] (rHomeCT) at (332,1573) {Home Centers};
\node[dotr,rblu] (rMobile) at (480,1583) {}; \node[lr,anchor=west] (rMobileT) at (491,1584) {Mobile Home Dealers};
\node[dotr,rblu] (rBuild) at (347,1592) {}; \node[lr,anchor=east] (rBuildT) at (334,1591) {Other Building Materials Stores};
\node[dotr,rblu] (rPet) at (475,1601) {}; \node[lr,anchor=west] (rPetT) at (486,1602) {Pet and Pet Supply Stores};
\node[dotr,rblu] (rPaint) at (354,1608) {}; \node[lr,anchor=east] (rPaintT) at (343,1609) {Paint and Wallpaper Stores};
\node[dotr,rblu] (rFloor) at (466,1615) {}; \node[lr,anchor=west] (rFloorT) at (480,1618) {Floor Covering Stores};
\node[dotr,rblu] (rMisc) at (366,1623) {}; \node[lr,anchor=east] (rMiscT) at (349,1622) {Other Miscellaneous Retail Stores};
\node[dotr,rblu] (rAppl) at (452,1629) {}; \node[lr,anchor=west] (rApplT) at (473,1632) {Appliances \& Electronics Stores};
\node[dotr,rblu] (rHomeF) at (381,1633) {}; \node[lr,anchor=east] (rHomeFT) at (367,1635) {Other Home Furnishing Stores};
\node[dotr,rblu] (rOutd) at (399,1640) {}; \node[lr,anchor=east] (rOutdT) at (393,1649) {Outdoor Power Equipment Stores};
\node[dotr,rblu] (rFurn) at (417,1641) {}; \node[lr,anchor=west] (rFurnT) at (394,1661) {Furniture Stores};
\node[dotr,rblu] (rVend) at (435,1638) {}; \node[lr,anchor=west] (rVendT) at (443,1645) {Vending Machines};

% dashed significance regions
\draw[dsh, rotate around={22:(550,1281)}] (550,1281) ellipse [x radius=227, y radius=134];
\draw[dsh, rotate around={20:(494,1515)}] (494,1515) ellipse [x radius=227, y radius=138];

% ---------- edges ----------
\pgfmathdeclarerandomlist{jPurL}{{jFruit}{jFish}{jConv}{jMeat}{jSpecial}{jMusical}{jDrink}{jLimited}{jPharm}{jBook}{jHealth}{jFull}{jCosm}{jRoom}{jFlor}{jHotel}{jLiquor}{jDirect}{jFuel}{jMail}{jApp}{jNurs}{jMisc}{jFurn}{jArt}}
\pgfmathdeclarerandomlist{jGrnL}{{jHobby}{jChild}{jWom}{jMen}{jOpt}{jLugg}{jShoe}{jJew}{jClAcc}{jSport}{jFam}{jDept}{jWare}{jGroc}{jSew}{jGift}}
\pgfmathdeclarerandomlist{jBluL}{{jAuto}{jArc1}{jNewCar}{jArc2}{jUsedCar}{jTire}{jGenM}{jUsedM}{jMotoCam}{jPaint}{jVend}{jOutd}{jHomeF}{jHomeC}{jFloor}{jOffice}{jMobile}{jComp}{jBuild}{jGasW}{jPet}{jAppl}}
\pgfmathdeclarerandomlist{pPurL}{{pDrink}{pFull}{pRoom}{pArt}{pGift}{pLiq}{pHotel}{pFlor}{pBook}{pOffice}{pCam}{pMus}}
\pgfmathdeclarerandomlist{pGrnL}{{pSew}{pConv}{pPet}{pMeat}{pFish}{pGroc}{pFruit}{pApp}{pHealth}{pHomeF}{pShoe}{pCosm}{pChild}{pJew}{pOpt}{pWom}{pClAcc}{pMen}{pHobby}{pLugg}{pSport}{pFamily}{pWare}{pDept}}
\pgfmathdeclarerandomlist{pBluL}{{pMoto}{pTire}{pPaint}{pOutd}{pComp}{pVend}{pMisc}{pBuild}{pPharm}{pAuto}{pFuel}{pNewC}{pAppl}{pUsedC}{pFloor}{pHomeC}{pMobile}{pUsedM}{pRecV}{pGenM}{pMail}{pGasC}{pNurs}{pGasW}{pDirect}{pLimit}{pSpec}{pFurn}{pWare}{pDept}}
\pgfmathdeclarerandomlist{rUpL}{{rSpec}{rLiq}{rCam}{rLimit}{rRec}{rDrink}{rArt}{rFull}{rRoom}{rHotel}{rMus}{rGift}{rBook}{rMen}{rChild}{rHobby}{rRV}{rWom}{rOpt}{rShoe}{rJew}{rSport}{rApp}{rClAcc}{rFam}{rGasW}{rDept}{rGasC}{rWare}{rDirect}{rMail}{rFuel}}
\pgfmathdeclarerandomlist{rLoL}{{rMeat}{rFish}{rSew}{rConv}{rFruit}{rGroc}{rFlor}{rPharm}{rNurs}{rUsedC}{rTire}{rNewC}{rUsedM}{rAuto}{rComp}{rRecV}{rGenM}{rOffice}{rMoto}{rHard}{rHomeC}{rMobile}{rBuild}{rPet}{rPaint}{rFloor}{rMisc}{rAppl}{rHomeF}{rOutd}{rFurn}{rVend}{rLugg}{rHealth}{rCosm}}
\begin{pgfonlayer}{edges}
\pgfmathsetseed{11}
\foreach \i in {1,...,110}{\pgfmathrandomitem{\nodeA}{jPurL}\pgfmathrandomitem{\nodeB}{jPurL}\draw[edpur] (\nodeA.center) -- (\nodeB.center);}
\foreach \i in {1,...,70}{\pgfmathrandomitem{\nodeA}{jGrnL}\pgfmathrandomitem{\nodeB}{jGrnL}\draw[edgrn] (\nodeA.center) -- (\nodeB.center);}
\foreach \i in {1,...,90}{\pgfmathrandomitem{\nodeA}{jBluL}\pgfmathrandomitem{\nodeB}{jBluL}\draw[edblu] (\nodeA.center) -- (\nodeB.center);}
\foreach \i in {1,...,90}{\pgfmathrandomitem{\nodeA}{jPurL}\pgfmathrandomitem{\nodeB}{jGrnL}\draw[edgry] (\nodeA.center) to[bend left=35] (\nodeB.center);}
\foreach \i in {1,...,60}{\pgfmathrandomitem{\nodeA}{jBluL}\pgfmathrandomitem{\nodeB}{jGrnL}\draw[edgry] (\nodeA.center) to[bend right=30] (\nodeB.center);}
\foreach \i in {1,...,50}{\pgfmathrandomitem{\nodeA}{pPurL}\pgfmathrandomitem{\nodeB}{pPurL}\draw[edpur] (\nodeA.center) -- (\nodeB.center);}
\foreach \i in {1,...,110}{\pgfmathrandomitem{\nodeA}{pGrnL}\pgfmathrandomitem{\nodeB}{pGrnL}\draw[edgrn] (\nodeA.center) -- (\nodeB.center);}
\foreach \i in {1,...,120}{\pgfmathrandomitem{\nodeA}{pBluL}\pgfmathrandomitem{\nodeB}{pBluL}\draw[edblu] (\nodeA.center) -- (\nodeB.center);}
\foreach \i in {1,...,90}{\pgfmathrandomitem{\nodeA}{pPurL}\pgfmathrandomitem{\nodeB}{pGrnL}\draw[edgry] (\nodeA.center) to[bend left=30] (\nodeB.center);}
\foreach \i in {1,...,70}{\pgfmathrandomitem{\nodeA}{pBluL}\pgfmathrandomitem{\nodeB}{pPurL}\draw[edgry] (\nodeA.center) to[bend right=25] (\nodeB.center);}
\foreach \i in {1,...,70}{\pgfmathrandomitem{\nodeA}{pBluL}\pgfmathrandomitem{\nodeB}{pGrnL}\draw[edgry] (\nodeA.center) to[bend left=20] (\nodeB.center);}
\foreach \i in {1,...,160}{\pgfmathrandomitem{\nodeA}{rUpL}\pgfmathrandomitem{\nodeB}{rUpL}\draw[edgry] (\nodeA.center) -- (\nodeB.center);}
\foreach \i in {1,...,160}{\pgfmathrandomitem{\nodeA}{rLoL}\pgfmathrandomitem{\nodeB}{rLoL}\draw[edgry] (\nodeA.center) -- (\nodeB.center);}
\foreach \i in {1,...,120}{\pgfmathrandomitem{\nodeA}{rUpL}\pgfmathrandomitem{\nodeB}{rLoL}\draw[edgry] (\nodeA.center) to[bend left=15] (\nodeB.center);}
\end{pgfonlayer}
\end{tikzpicture}
\end{document}
